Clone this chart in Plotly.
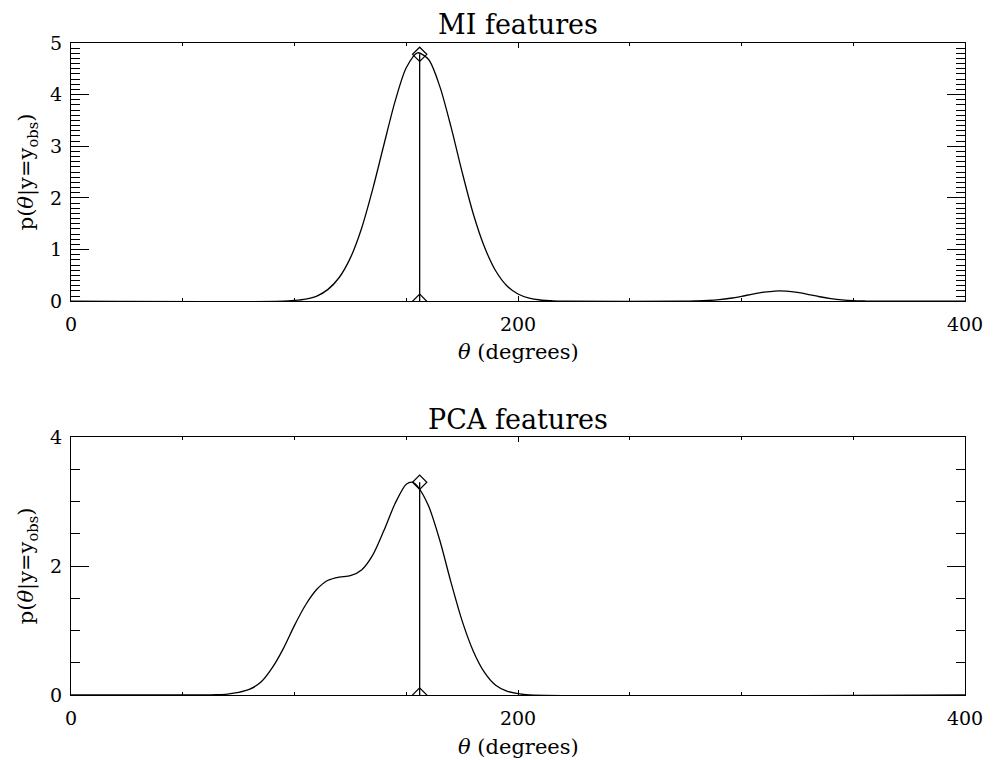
import plotly.graph_objects as go

# ---- data ----
theta_mi = [0, 95, 100, 105, 110, 115, 120, 125, 130, 135, 140, 145, 150, 155, 160,
            165, 170, 175, 180, 185, 190, 195, 200, 205, 210, 215, 220, 275, 280,
            285, 290, 295, 300, 305, 310, 315, 320, 325, 330, 335, 340, 345, 350,
            355, 360, 400]
p_mi = [0, 0, 0.016, 0.043, 0.10, 0.23, 0.46, 0.84, 1.41, 2.17, 3.03, 3.87, 4.52, 4.81, 4.68,
        4.16, 3.38, 2.50, 1.69, 1.05, 0.59, 0.30, 0.14, 0.06, 0.024, 0.01, 0, 0, 0.006,
        0.015, 0.031, 0.058, 0.096, 0.139, 0.176, 0.198, 0.195, 0.17, 0.13, 0.087, 0.052, 0.027, 0.012,
        0.005, 0, 0]

theta_pca = [0, 60, 65, 70, 75, 80, 85, 90, 95, 100, 105, 110, 115, 120, 125, 130, 135,
             140, 145, 150, 153, 155, 160, 165, 170, 175, 180, 185, 190, 195, 200, 205, 400]
p_pca = [0, 0, 0.005, 0.015, 0.04, 0.09, 0.2, 0.42, 0.72, 1.08, 1.40, 1.64, 1.78, 1.83, 1.85, 1.94, 2.17,
         2.55, 2.97, 3.27, 3.30, 3.24, 2.93, 2.40, 1.75, 1.15, 0.68, 0.35, 0.15, 0.06, 0.02, 0, 0]

mi_obs = [156, 4.78]
pca_obs = [156, 3.30]

x_ticks = [0, 200, 400]
mi_y_ticks = [0, 1, 2, 3, 4, 5]
pca_y_ticks = [0, 2, 4]

titles = ["MI features", "PCA features"]
x_title = "<i>θ</i> (degrees)"
y_title = "p(<i>θ</i>|y=y<sub>obs</sub>)"

# ---- figure ----
FONT = "DejaVu Serif"
line_style = dict(color="black", width=1.3)
fig = go.Figure()

def add_panel(theta, p, obs, xa, ya):
    fig.add_trace(go.Scatter(x=theta, y=p, mode="lines", line=dict(shape="spline", smoothing=0.8, **line_style),
                             xaxis=xa, yaxis=ya, showlegend=False, hoverinfo="skip"))
    fig.add_trace(go.Scatter(x=[obs[0], obs[0]], y=[0, obs[1]], mode="lines", line=line_style,
                             xaxis=xa, yaxis=ya, showlegend=False, hoverinfo="skip"))
    fig.add_trace(go.Scatter(x=[obs[0], obs[0]], y=[0, obs[1]], mode="markers",
                             marker=dict(symbol="diamond-open", size=11, color="black", line=dict(width=1.2)),
                             xaxis=xa, yaxis=ya, showlegend=False, hoverinfo="skip"))

add_panel(theta_mi, p_mi, mi_obs, "x", "y")
add_panel(theta_pca, p_pca, pca_obs, "x2", "y2")

xcommon = dict(range=[0, 400], tickvals=x_ticks, ticktext=[str(v) for v in x_ticks],
               ticks="inside", ticklen=5, tickwidth=1.2, tickcolor="black",
               minor=dict(dtick=50, ticks="inside", ticklen=3, tickcolor="black", tickwidth=1),
               showline=True, linecolor="black", linewidth=1.4, mirror="ticks",
               showgrid=False, zeroline=False, ticklabelstandoff=6,
               tickfont=dict(family=FONT, size=19, color="black"))
ycommon = dict(ticks="inside", ticklen=18, tickwidth=1.2, tickcolor="black",
               showline=True, linecolor="black", linewidth=1.4, mirror="ticks",
               showgrid=False, zeroline=False, ticklabelstandoff=4,
               tickfont=dict(family=FONT, size=19, color="black"))

fig.update_layout(
    width=995, height=760,
    paper_bgcolor="white", plot_bgcolor="white",
    margin=dict(l=71, r=22, t=43, b=65),
    xaxis=dict(domain=[0, 1], anchor="y", **xcommon),
    yaxis=dict(domain=[0.6039, 1.0], anchor="x", range=[0, 5], tickvals=mi_y_ticks,
               minor=dict(dtick=0.1, ticks="inside", ticklen=9, tickcolor="black", tickwidth=1),
               **ycommon),
    xaxis2=dict(domain=[0, 1], anchor="y2", **xcommon),
    yaxis2=dict(domain=[0, 0.3955], anchor="x2", range=[0, 4], tickvals=pca_y_ticks,
                minor=dict(dtick=0.5, ticks="inside", ticklen=9, tickcolor="black", tickwidth=1),
                **ycommon),
    font=dict(family=FONT, color="black"),
)

ann = []
for txt, yp in zip(titles, [1.0284, 0.4227]):
    ann.append(dict(text=txt, x=0.5, y=yp, xref="paper", yref="paper", showarrow=False,
                    xanchor="center", yanchor="middle", font=dict(family=FONT, size=27, color="black")))
for yp in [0.5258, -0.0794]:
    ann.append(dict(text=x_title, x=0.5, y=yp, xref="paper", yref="paper", showarrow=False,
                    xanchor="center", yanchor="middle", font=dict(family=FONT, size=21, color="black")))
for yp in [0.802, 0.1978]:
    ann.append(dict(text=y_title, x=-0.049, y=yp, xref="paper", yref="paper", showarrow=False,
                    textangle=-90, xanchor="center", yanchor="middle",
                    font=dict(family=FONT, size=21, color="black")))
fig.update_layout(annotations=ann)

fig.write_html("out.html", config={"displayModeBar": False},
               post_script="document.body.style.margin='0';document.body.style.overflow='hidden';")
